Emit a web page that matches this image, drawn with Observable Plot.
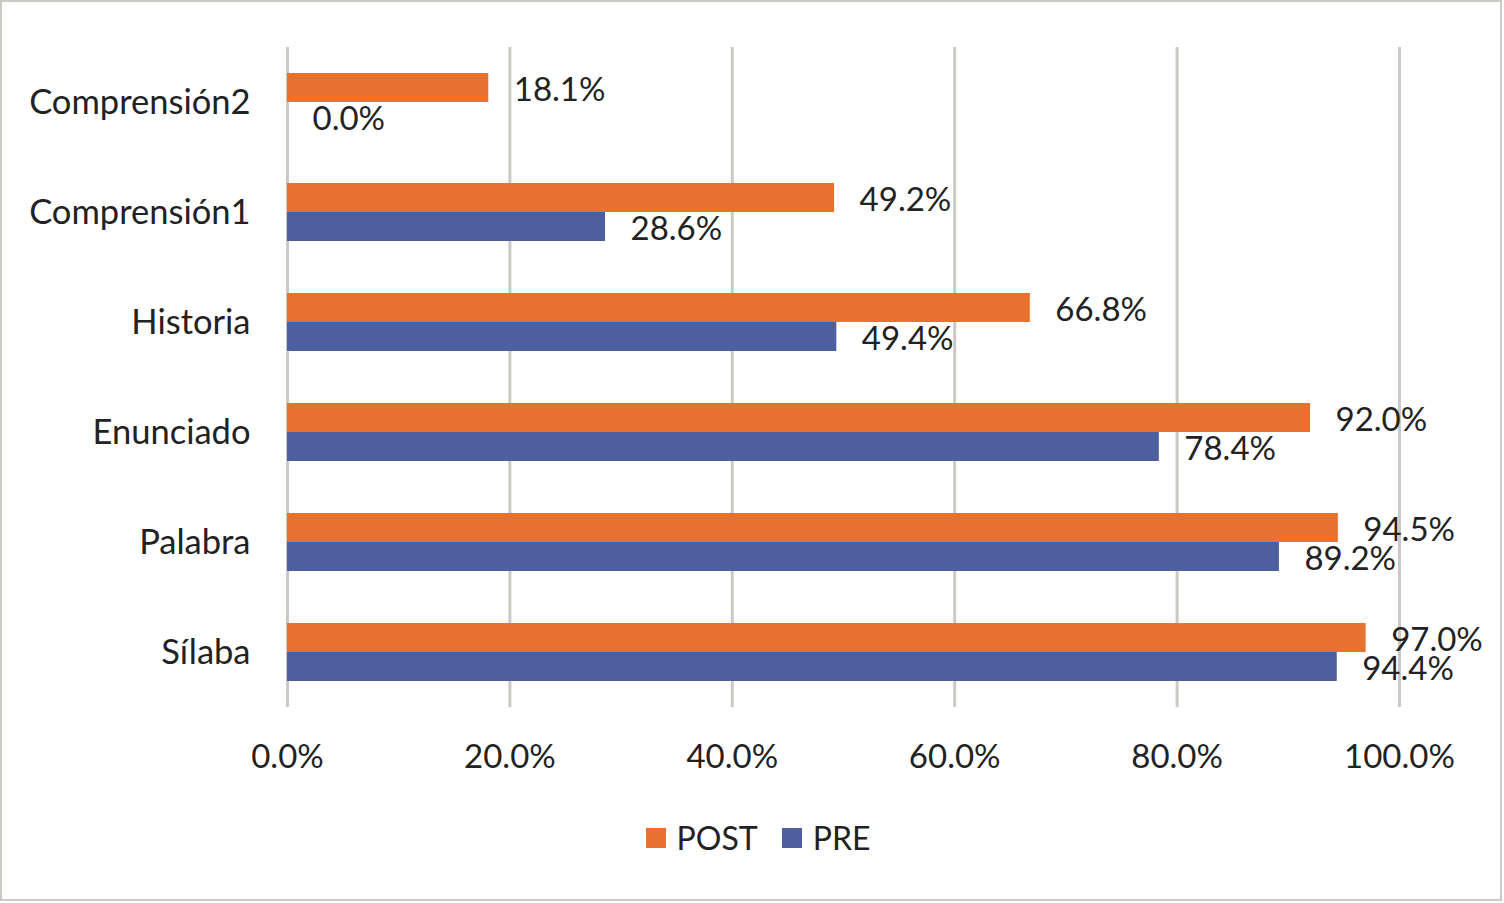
<!DOCTYPE html>
<html>
<head>
<meta charset="utf-8">
<script src="https://cdn.jsdelivr.net/npm/d3@7"></script>
<script src="https://cdn.jsdelivr.net/npm/@observablehq/plot@0.6"></script>
<style>
  html, body { margin: 0; padding: 0; background: #fff; }
  #frame { position: absolute; left: 0; top: 0; width: 1502px; height: 901px; box-sizing: border-box; border: 2px solid #ccc9c4; }
  #chart { position: absolute; left: 0; top: 0; }
  #legend { position: absolute; left: 6px; top: 818px; width: 1504px; display: flex; justify-content: center; align-items: center; font-family: Lato, sans-serif; font-size: 32px; color: #222; }
  .item { display: flex; align-items: center; margin: 0 12px; }
  .sw { width: 20px; height: 20px; margin-right: 11px; }
</style>
</head>
<body>
<div id="frame"></div>
<div id="chart"></div>
<div id="legend"></div>
<script>
const categories = ["Comprensión2", "Comprensión1", "Historia", "Enunciado", "Palabra", "Sílaba"];
const postValues = [0.181, 0.492, 0.668, 0.920, 0.945, 0.970];
const preValues  = [0.000, 0.286, 0.494, 0.784, 0.892, 0.944];
const seriesNames = ["POST", "PRE"];
const seriesColors = ["#e8712f", "#4e5f9f"];
const xTicks = [0, 0.2, 0.4, 0.6, 0.8, 1.0];

const rows = [];
categories.forEach((c, i) => {
  rows.push({category: c, series: "POST", value: postValues[i]});
  rows.push({category: c, series: "PRE", value: preValues[i]});
});

const fmt = d3.format(".1%");

const chart = Plot.plot({
  width: 1504,
  height: 790,
  marginTop: 46,
  marginBottom: 83,
  marginLeft: 287,
  marginRight: 105,
  style: {fontFamily: "Lato, sans-serif", fontSize: "33px", color: "#222", background: "transparent"},
  x: {domain: [0, 1], label: null},
  y: {domain: seriesNames, axis: null, paddingInner: 0, paddingOuter: 0.88},
  fy: {domain: categories, padding: 0, label: null},
  color: {domain: seriesNames, range: seriesColors},
  marks: [
    Plot.ruleX(xTicks, {stroke: "#ccc9c4", strokeWidth: 3}),
    Plot.barX(rows, {x: "value", y: "series", fy: "category", fill: "series"}),
    Plot.text(rows, {x: "value", y: "series", fy: "category", text: d => fmt(d.value), textAnchor: "start", dx: 25, dy: 2, fill: "#222", fontSize: 33}),
    Plot.axisX({ticks: xTicks, tickFormat: fmt, tickSize: 0, tickPadding: 37, fontSize: 33, label: null}),
    Plot.axisFy({anchor: "left", tickSize: 0, tickPadding: 37, fontSize: 34.5, label: null})
  ]
});
document.getElementById("chart").appendChild(chart);

const legend = document.getElementById("legend");
seriesNames.forEach((s, i) => {
  const item = document.createElement("div");
  item.className = "item";
  const sw = document.createElement("div");
  sw.className = "sw";
  sw.style.background = seriesColors[i];
  const t = document.createElement("span");
  t.textContent = s;
  item.appendChild(sw);
  item.appendChild(t);
  legend.appendChild(item);
});
</script>
</body>
</html>
